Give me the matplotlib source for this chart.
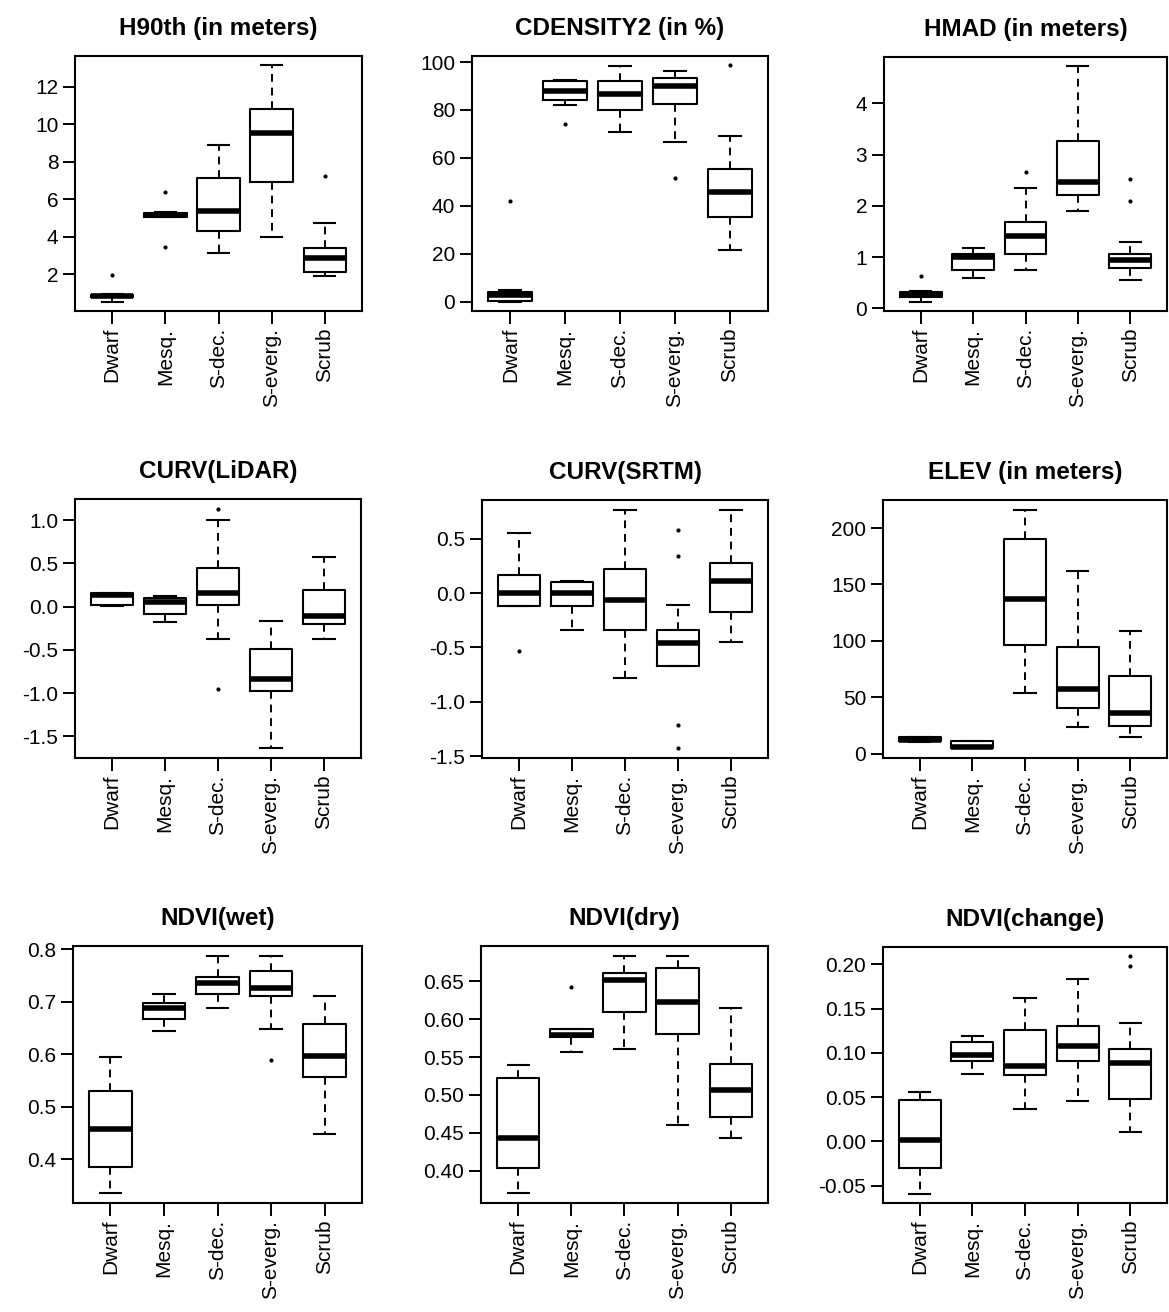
import matplotlib
matplotlib.use("Agg")
import matplotlib.pyplot as plt
import numpy as np

plt.rcParams['font.family'] = ['Liberation Sans', 'DejaVu Sans']

categories = ["Dwarf", "Mesq.", "S-dec.", "S-everg.", "Scrub"]

titles = ["H90th (in meters)", "CDENSITY2 (in %)", "HMAD (in meters)",
          "CURV(LiDAR)", "CURV(SRTM)", "ELEV (in meters)",
          "NDVI(wet)", "NDVI(dry)", "NDVI(change)"]

h90 = dict(whislo=[0.55, 5.05, 3.12, 3.98, 1.93],
           q1=[0.78, 5.07, 4.33, 6.90, 2.11],
           med=[0.84, 5.17, 5.39, 9.54, 2.86],
           q3=[0.92, 5.25, 7.13, 10.84, 3.39],
           whishi=[0.95, 5.30, 8.88, 13.14, 4.73],
           fliers=[[1.95], [6.37, 3.48], [], [], [7.22]])

cdens = dict(whislo=[0.0, 82.0, 71.0, 66.7, 21.4],
             q1=[0.4, 84.2, 80.2, 82.4, 35.4],
             med=[2.8, 88.0, 86.6, 89.9, 45.6],
             q3=[4.0, 92.0, 92.0, 93.4, 55.3],
             whishi=[4.8, 92.7, 98.3, 96.4, 69.2],
             fliers=[[41.9], [74.0], [], [51.6], [98.6]])

hmad = dict(whislo=[0.13, 0.59, 0.74, 1.90, 0.55],
            q1=[0.22, 0.74, 1.05, 2.21, 0.79],
            med=[0.27, 1.01, 1.41, 2.46, 0.95],
            q3=[0.31, 1.05, 1.69, 3.26, 1.05],
            whishi=[0.33, 1.18, 2.34, 4.72, 1.30],
            fliers=[[0.63], [], [2.66], [], [2.10, 2.52]])

curv_lidar = dict(whislo=[0.01, -0.18, -0.37, -1.64, -0.37],
                  q1=[0.02, -0.08, 0.025, -0.97, -0.20],
                  med=[0.14, 0.05, 0.16, -0.84, -0.11],
                  q3=[0.156, 0.10, 0.45, -0.49, 0.19],
                  whishi=[0.16, 0.12, 1.0, -0.16, 0.58],
                  fliers=[[], [], [1.135, -0.95], [], []])

curv_srtm = dict(whislo=[-0.12, -0.34, -0.78, -0.67, -0.45],
                 q1=[-0.117, -0.117, -0.34, -0.67, -0.176],
                 med=[0.0, 0.0, -0.06, -0.456, 0.11],
                 q3=[0.164, 0.104, 0.22, -0.34, 0.276],
                 whishi=[0.553, 0.11, 0.77, -0.11, 0.77],
                 fliers=[[-0.53], [], [], [0.58, 0.34, -1.21, -1.43], []])

elev = dict(whislo=[10.0, 4.5, 53.4, 23.2, 14.6],
            q1=[10.7, 4.8, 96.6, 40.5, 24.7],
            med=[12.2, 5.4, 137.4, 57.0, 35.5],
            q3=[14.3, 10.7, 190.0, 94.8, 68.9],
            whishi=[14.8, 11.0, 216.4, 162.0, 108.5],
            fliers=[[], [], [], [], []])

ndvi_wet = dict(whislo=[0.335, 0.644, 0.688, 0.649, 0.449],
                q1=[0.385, 0.668, 0.714, 0.710, 0.556],
                med=[0.458, 0.688, 0.736, 0.727, 0.596],
                q3=[0.530, 0.697, 0.748, 0.758, 0.657],
                whishi=[0.595, 0.715, 0.788, 0.788, 0.710],
                fliers=[[], [], [], [0.589], []])

ndvi_dry = dict(whislo=[0.370, 0.557, 0.561, 0.460, 0.443],
                q1=[0.403, 0.577, 0.609, 0.581, 0.471],
                med=[0.443, 0.579, 0.652, 0.623, 0.507],
                q3=[0.523, 0.587, 0.661, 0.668, 0.541],
                whishi=[0.540, 0.587, 0.684, 0.684, 0.615],
                fliers=[[], [0.643], [], [], []])

ndvi_change = dict(whislo=[-0.059, 0.076, 0.037, 0.046, 0.010],
                   q1=[-0.030, 0.091, 0.075, 0.091, 0.048],
                   med=[0.001, 0.098, 0.085, 0.108, 0.089],
                   q3=[0.0466, 0.112, 0.1256, 0.130, 0.104],
                   whishi=[0.056, 0.119, 0.162, 0.184, 0.134],
                   fliers=[[], [], [], [], [0.209, 0.198]])

yticks = [[2, 4, 6, 8, 10, 12],
          [0, 20, 40, 60, 80, 100],
          [0, 1, 2, 3, 4],
          [-1.5, -1.0, -0.5, 0.0, 0.5, 1.0],
          [-1.5, -1.0, -0.5, 0.0, 0.5],
          [0, 50, 100, 150, 200],
          [0.4, 0.5, 0.6, 0.7, 0.8],
          [0.40, 0.45, 0.50, 0.55, 0.60, 0.65],
          [-0.05, 0.00, 0.05, 0.10, 0.15, 0.20]]
ytick_fmt = ["{:.0f}", "{:.0f}", "{:.0f}", "{:.1f}", "{:.1f}", "{:.0f}",
             "{:.1f}", "{:.2f}", "{:.2f}"]

panels = [h90, cdens, hmad, curv_lidar, curv_srtm, elev, ndvi_wet, ndvi_dry, ndvi_change]

W, H = 1169, 1312
fig = plt.figure(figsize=(W / 100, H / 100), dpi=100)

# axes boxes in pixels: (left, top, right, bottom)
boxes_px = [(75, 56, 362, 311), (472, 56, 768, 311), (884, 57, 1167, 311),
            (75, 499, 361, 758), (482, 500, 768, 758), (883, 500, 1167, 758),
            (73, 946, 362, 1203), (481, 946, 768, 1203), (883, 947, 1167, 1203)]

for i, (d, title) in enumerate(zip(panels, titles)):
    l, t, r, b = boxes_px[i]
    ax = fig.add_axes([l / W, 1 - b / H, (r - l) / W, (b - t) / H])
    stats = []
    for j, c in enumerate(categories):
        stats.append(dict(label=c, med=d['med'][j], q1=d['q1'][j], q3=d['q3'][j],
                          whislo=d['whislo'][j], whishi=d['whishi'][j],
                          fliers=d['fliers'][j]))
    ax.bxp(stats, positions=range(1, 6), widths=0.8, showfliers=True,
           boxprops=dict(color='black', linewidth=1.5),
           medianprops=dict(color='black', linewidth=4.0, solid_capstyle='butt'),
           whiskerprops=dict(color='black', linewidth=1.4, linestyle=(0, (4, 3))),
           capprops=dict(color='black', linewidth=1.5),
           capwidths=0.4,
           flierprops=dict(marker='o', markersize=2.0, markerfacecolor='black',
                           markeredgecolor='black', linestyle='none'))
    allv = d['whislo'] + d['whishi'] + [v for f in d['fliers'] for v in f]
    lo, hi = min(allv), max(allv)
    pad = 0.04 * (hi - lo)
    ax.set_ylim(lo - pad, hi + pad)
    ax.set_xlim(0.3, 5.7)
    ax.set_yticks(yticks[i])
    ax.set_yticklabels([ytick_fmt[i].format(v) for v in yticks[i]])
    ax.set_xticks(range(1, 6))
    ax.set_xticklabels(categories, rotation=90)
    ax.tick_params(axis='both', length=9, width=1.4, labelsize=15, pad=3, color='black')
    for s in ax.spines.values():
        s.set_linewidth(1.5)
    ax.set_title(title, fontsize=17.5, fontweight='bold', pad=15)

fig.savefig("out.png", dpi=100, facecolor='white')
